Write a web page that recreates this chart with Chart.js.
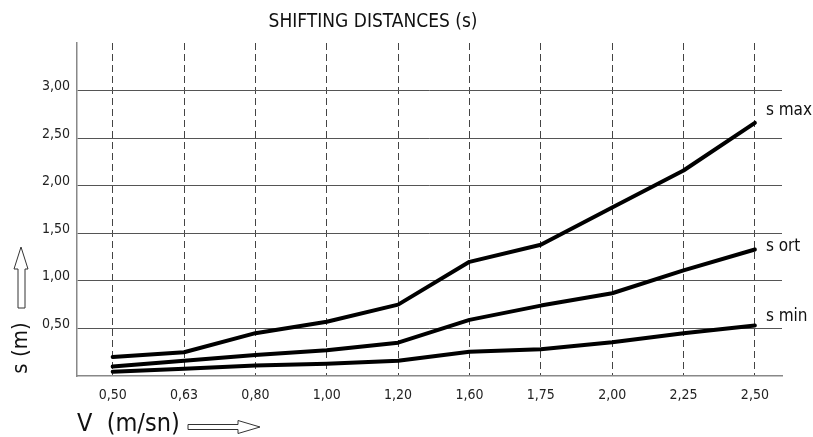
<!DOCTYPE html>
<html>
<head>
<meta charset="utf-8">
<script src="https://cdn.jsdelivr.net/npm/chart.js@4/dist/chart.umd.min.js"></script>
<style>
  html, body { margin: 0; padding: 0; background: #fff; }
  #wrap { width: 813px; height: 437px; }
</style>
</head>
<body>
<div id="wrap"><canvas id="chart"></canvas></div>
<script>
// velocita' (m/sn) e distanze (m)
const speeds = ['0,50', '0,63', '0,80', '1,00', '1,20', '1,60', '1,75', '2,00', '2,25', '2,50'];
const sMax = [0.20, 0.25, 0.45, 0.57, 0.75, 1.20, 1.38, 1.77, 2.16, 2.66];
const sOrt = [0.10, 0.16, 0.22, 0.27, 0.35, 0.59, 0.74, 0.87, 1.11, 1.33];
const sMin = [0.045, 0.075, 0.11, 0.13, 0.16, 0.255, 0.28, 0.355, 0.45, 0.53];
const seriesNames = ['s max', 's ort', 's min'];
const yTicks = [0.5, 1.0, 1.5, 2.0, 2.5, 3.0];

const FONT = "'Liberation Sans Narrow', 'DejaVu Sans Condensed', 'Roboto Condensed', sans-serif";

function toPoints(arr) {
    return arr.map((v, i) => ({ x: i, y: v }));
}

// testo: titolo, etichette assi, frecce, nomi delle curve
const decorPlugin = {
    id: 'decor',
    afterDatasetsDraw(chart) {
        const ctx = chart.ctx;
        ctx.save();
        ctx.fillStyle = '#111';
        ctx.textBaseline = 'middle';

        // nomi delle curve all'ultimo punto
        const offs = [-12, -3, -9];
        ctx.font = '17px ' + FONT;
        ctx.textAlign = 'left';
        chart.data.datasets.forEach((ds, i) => {
            const pts = chart.getDatasetMeta(i).data;
            const last = pts[pts.length - 1];
            ctx.fillText(seriesNames[i], last.x + 11, last.y + offs[i]);
        });

        // titolo
        ctx.font = '19px ' + FONT;
        ctx.textAlign = 'center';
        ctx.fillText('SHIFTING DISTANCES (s)', 373, 22);

        // etichetta asse x
        ctx.font = '25px ' + FONT;
        ctx.textAlign = 'left';
        ctx.fillText('V  (m/sn)', 77, 424);

        // etichetta asse y (ruotata)
        ctx.save();
        ctx.translate(21, 348);
        ctx.rotate(-Math.PI / 2);
        ctx.font = '22px ' + FONT;
        ctx.textAlign = 'center';
        ctx.fillText('s (m)', 0, 0);
        ctx.restore();

        // frecce vuote
        ctx.strokeStyle = '#333';
        ctx.lineWidth = 1;
        ctx.fillStyle = '#fff';
        ctx.beginPath();
        ctx.moveTo(18, 308); ctx.lineTo(18, 269); ctx.lineTo(14, 269);
        ctx.lineTo(21, 247); ctx.lineTo(28, 269); ctx.lineTo(25, 269);
        ctx.lineTo(25, 308); ctx.closePath();
        ctx.fill(); ctx.stroke();

        ctx.beginPath();
        ctx.moveTo(188, 424.5); ctx.lineTo(238, 424.5); ctx.lineTo(238, 420.5);
        ctx.lineTo(260, 427); ctx.lineTo(238, 433.5); ctx.lineTo(238, 429.5);
        ctx.lineTo(188, 429.5); ctx.closePath();
        ctx.fill(); ctx.stroke();

        ctx.restore();
    }
};

const lineStyle = { borderColor: '#000', borderWidth: 4, pointRadius: 0, tension: 0, fill: false, borderCapStyle: 'round', borderJoinStyle: 'round' };

new Chart(document.getElementById('chart'), {
    type: 'line',
    data: {
        datasets: [
            { label: seriesNames[0], data: toPoints(sMax), ...lineStyle },
            { label: seriesNames[1], data: toPoints(sOrt), ...lineStyle },
            { label: seriesNames[2], data: toPoints(sMin), ...lineStyle }
        ]
    },
    options: {
        responsive: true,
        maintainAspectRatio: false,
        animation: false,
        layout: { padding: { top: 43, right: 31, left: 0, bottom: 0 } },
        plugins: { legend: { display: false }, tooltip: { enabled: false } },
        scales: {
            x: {
                type: 'linear',
                min: -0.5,
                max: 9.38,
                afterFit: s => { s.height = 61; },
                grid: { color: '#444', lineWidth: 1, drawTicks: false },
                border: { color: '#888', width: 1.5, dash: [7, 4] },
                ticks: {
                    stepSize: 1,
                    includeBounds: false,
                    autoSkip: false,
                    maxRotation: 0,
                    padding: 11,
                    color: '#222',
                    font: { family: FONT, size: 14 },
                    callback: v => Number.isInteger(v) ? speeds[v] : ''
                }
            },
            y: {
                min: 0,
                max: 3.5,
                afterFit: s => { s.width = 77; },
                grid: {
                    drawTicks: false,
                    lineWidth: 1,
                    color: c => yTicks.includes(c.tick.value) ? '#555' : 'rgba(0,0,0,0)'
                },
                border: { color: '#888', width: 1.5 },
                ticks: {
                    stepSize: 0.5,
                    padding: 7,
                    labelOffset: -4,
                    color: '#222',
                    font: { family: FONT, size: 14 },
                    callback: v => yTicks.includes(v) ? v.toFixed(2).replace('.', ',') : ''
                }
            }
        }
    },
    plugins: [decorPlugin]
});
</script>
</body>
</html>
